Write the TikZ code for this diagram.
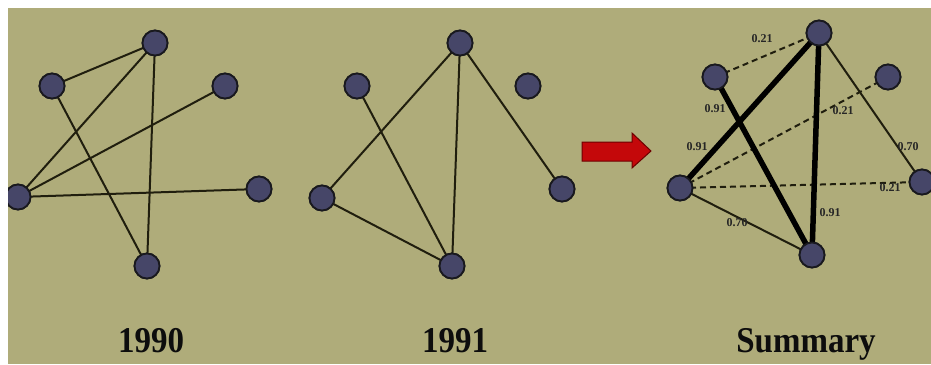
\documentclass[tikz,border=0pt]{standalone}
\usepackage{fontspec}
\setmainfont{Liberation Serif}
\definecolor{bgolive}{RGB}{175,172,122}
\definecolor{nodefill}{RGB}{70,70,104}
\definecolor{nodeline}{RGB}{25,25,30}
\definecolor{edgecol}{RGB}{32,30,14}
\definecolor{arrowred}{RGB}{196,8,10}
\definecolor{arrowdark}{RGB}{110,0,0}
\tikzset{
  vtx/.style={circle,fill=nodefill,draw=nodeline,line width=1.8pt,minimum size=25pt,inner sep=0pt},
  edg/.style={draw=edgecol,line width=2pt},
  thickedg/.style={draw=black,line width=5.5pt},
  dashedg/.style={draw=edgecol,line width=2pt,dash pattern=on 6pt off 4pt},
  wlabel/.style={font=\fontsize{12}{12}\selectfont\bfseries,text=black!85,inner sep=0pt},
  title/.style={font=\fontsize{33}{33}\selectfont\bfseries,text=black!95,inner sep=0pt,anchor=base}
}
\begin{document}
\begin{tikzpicture}[x=1pt,y=-1pt]
\useasboundingbox (0,0) rectangle (931,364);
\fill[white] (0,0) rectangle (931,364);
\fill[bgolive] (8,8) rectangle (931,364);
\begin{scope}
\clip (8,8) rectangle (931,364);
% ---------- 1990 ----------
\node[vtx] (a1) at (155,43) {};
\node[vtx] (b1) at (52,86) {};
\node[vtx] (c1) at (225,86) {};
\node[vtx] (d1) at (18,197) {};
\node[vtx] (e1) at (259,189) {};
\node[vtx] (f1) at (147,266) {};
% ---------- 1991 ----------
\node[vtx] (a2) at (460,43) {};
\node[vtx] (b2) at (357,86) {};
\node[vtx] (c2) at (528,86) {};
\node[vtx] (d2) at (322,198) {};
\node[vtx] (e2) at (562,189) {};
\node[vtx] (f2) at (452,266) {};
% ---------- Summary ----------
\node[vtx] (a3) at (819,33) {};
\node[vtx] (b3) at (715,77) {};
\node[vtx] (c3) at (888,77) {};
\node[vtx] (d3) at (680,188) {};
\node[vtx] (e3) at (922,182) {};
\node[vtx] (f3) at (812,255) {};
% edges 1990
\draw[edg] (b1.center) -- (a1.center);
\draw[edg] (a1.center) -- (d1.center);
\draw[edg] (a1.center) -- (f1.center);
\draw[edg] (b1.center) -- (f1.center);
\draw[edg] (d1.center) -- (c1.center);
\draw[edg] (d1.center) -- (e1.center);
% edges 1991
\draw[edg] (a2.center) -- (d2.center);
\draw[edg] (a2.center) -- (f2.center);
\draw[edg] (a2.center) -- (e2.center);
\draw[edg] (b2.center) -- (f2.center);
\draw[edg] (d2.center) -- (f2.center);
% edges Summary
\draw[dashedg] (b3.center) -- (a3.center);
\draw[dashedg] (d3.center) -- (c3.center);
\draw[dashedg] (d3.center) -- (e3.center);
\draw[edg] (a3.center) -- (e3.center);
\draw[edg] (d3.center) -- (f3.center);
\draw[thickedg] (a3.center) -- (d3.center);
\draw[thickedg] (b3.center) -- (f3.center);
\draw[thickedg] (a3.center) -- (f3.center);
% redraw vertices on top of the edges
\foreach \n in {a1,b1,c1,d1,e1,f1,a2,b2,c2,d2,e2,f2,a3,b3,c3,d3,e3,f3}{
  \path (\n.center) node[vtx] {};
}
% weight labels
\node[wlabel] (l1) at (762,39) {0.21};
\node[wlabel] (l2) at (715,109) {0.91};
\node[wlabel] (l3) at (843,111) {0.21};
\node[wlabel] (l4) at (697,147) {0.91};
\node[wlabel] (l5) at (908,147) {0.70};
\node[wlabel] (l6) at (890,188) {0.21};
\node[wlabel] (l7) at (830,213) {0.91};
\node[wlabel] (l8) at (737,223) {0.70};
% arrow
\filldraw[fill=arrowred,draw=arrowdark,line width=1pt,line join=miter]
  (582,142) -- (632,142) -- (632,133) -- (651,151) -- (632,168) -- (632,161) -- (582,161) -- cycle;
% titles
\node[title] (t1) at (151,352) {\scalebox{1}[1.1]{1990}};
\node[title] (t2) at (455,352) {\scalebox{1}[1.1]{1991}};
\node[title] (t3) at (806,352) {\scalebox{1}[1.1]{Summary}};
\end{scope}
\end{tikzpicture}
\end{document}
